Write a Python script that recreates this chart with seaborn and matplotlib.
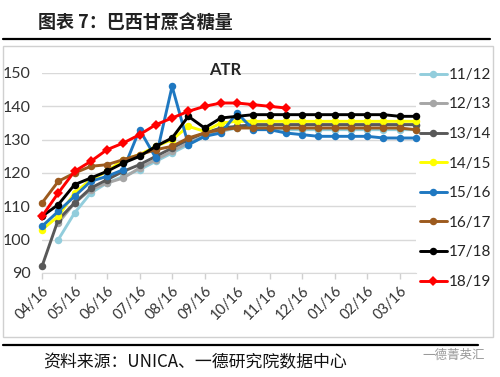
import numpy as np
import pandas as pd
import matplotlib.pyplot as plt
import seaborn as sns
from matplotlib.lines import Line2D
from matplotlib.patches import Rectangle

sns.set_style('white')
plt.rcParams['font.family'] = ['Lato', 'Noto Sans CJK SC', 'DejaVu Sans']

nan = np.nan

# half-month dates, 04/16 to 04/01 of next year
dates = ['04/16', '05/01', '05/16', '06/01', '06/16', '07/01', '07/16', '08/01',
         '08/16', '09/01', '09/16', '10/01', '10/16', '11/01', '11/16', '12/01',
         '12/16', '01/01', '01/16', '02/01', '02/16', '03/01', '03/16', '04/01']

seasons = ['11/12', '12/13', '13/14', '14/15', '15/16', '16/17', '17/18', '18/19']

atr_1112 = [nan, 100, 108, 114, 117, 119, 121, 123.5, 126, 128.5, 131, 132.5,
            133.5, 134, 133.5, 133, 133, 133, 133, 133, 133, 133, 133, 133]
atr_1213 = [nan, 105, 111, 115, 117, 118.5, 121.5, 124, 126.5, 129, 131, 132.5,
            134, 134.5, 134.5, 134.5, 134.5, 134.5, 134.5, 134.5, 134.5, 134.5, 134.5, 134.5]
atr_1314 = [92, 106, 111, 115.5, 118, 120.5, 122.5, 125, 127.5, 130, 132, 133.5,
            134, 134.5, 134.5, 134.5, 134.5, 134.5, 134.5, 134.5, 134.5, 134.5, 134.5, 134.5]
atr_1415 = [103, 107, 114, 118, 120.5, 124, 125.5, 128, 130, 134, 132.5, 135,
            135.5, 135.5, 135.5, 135.5, 135.5, 135.5, 135.5, 135.5, 135.5, 135.5, 135.5, 135.5]
atr_1516 = [104, 108.5, 113, 117.5, 119, 121, 133, 124.5, 146, 128.5, 131, 132,
            138, 133, 133, 132, 131.5, 131, 131, 131, 131, 130.5, 130.5, 130.5]
atr_1617 = [111, 117.5, 120, 122, 122.5, 124, 125.5, 127, 128, 130.5, 132, 133,
            133.5, 133.5, 133.5, 133.5, 133.5, 133.5, 133.5, 133.5, 133.5, 133.5, 133.5, 133]
atr_1718 = [107, 110.5, 116.5, 118.5, 120.5, 123, 125, 128, 130.5, 137, 133.5, 136.5,
            137, 137.5, 137.5, 137.5, 137.5, 137.5, 137.5, 137.5, 137.5, 137.5, 137, 137]
atr_1819 = [107, 114, 120.5, 123.5, 127, 129, 131.5, 134.5, 136.5, 138.5, 140, 141,
            141, 140.5, 140, 139.5, nan, nan, nan, nan, nan, nan, nan, nan]

colors = ['#92CDDC', '#A6A6A6', '#595959', '#FFFF00', '#1F78C1', '#9C5A1E', '#000000', '#FF0000']
markers = ['o', 'o', 'o', 'o', 'o', 'o', 'o', 'D']

df = pd.DataFrame({'idx': range(len(dates)), '11/12': atr_1112, '12/13': atr_1213,
                   '13/14': atr_1314, '14/15': atr_1415, '15/16': atr_1516,
                   '16/17': atr_1617, '17/18': atr_1718, '18/19': atr_1819})
long = df.melt(id_vars='idx', var_name='season', value_name='atr').dropna()

fig = plt.figure(figsize=(5, 3.77), dpi=100)
ax = fig.add_axes([42/500, 1 - 273/377, 374/500, 200/377])

sns.lineplot(data=long, x='idx', y='atr', hue='season', style='season',
             hue_order=seasons, style_order=seasons,
             palette=dict(zip(seasons, colors)), markers=dict(zip(seasons, markers)),
             dashes=False, linewidth=2.1, markersize=5.4, markeredgewidth=0,
             clip_on=False, ax=ax)

ax.set_xlim(0, 23)
ax.set_ylim(90, 150)
ax.set_yticks(range(90, 151, 10))
ax.set_xticks(range(0, 24, 2))
ax.set_xticklabels(dates[0::2], rotation=45, ha='right', rotation_mode='anchor')
ax.set_xlabel('')
ax.set_ylabel('')
ax.grid(axis='y', color='#D9D9D9', linewidth=1)
ax.grid(axis='x', visible=False)
for s in ['left', 'right', 'top']:
    ax.spines[s].set_visible(False)
ax.spines['bottom'].set_color('#D9D9D9')
ax.tick_params(axis='y', length=0, pad=8, labelsize=11.5, labelcolor='#333333')
ax.tick_params(axis='x', length=4, color='#D0D0D0', width=1, pad=4,
               labelsize=10.5, labelcolor='#333333', bottom=True)

handles, labels = ax.get_legend_handles_labels()
ax.legend(handles, labels, loc='upper left', bbox_to_anchor=(0.84, 0.82),
          bbox_transform=fig.transFigure, frameon=False, fontsize=11,
          handlelength=1.75, handletextpad=0.15, labelspacing=1.02,
          borderpad=0, borderaxespad=0)

fig.text(225/500, 1 - 70/377, 'ATR', fontsize=12, fontweight='bold', ha='center', va='center')

# frame and header / footer
fig.add_artist(Rectangle((3/500, 1 - 337/377), 490/500, 291/377, transform=fig.transFigure,
                         fill=False, edgecolor='#D0D0D0', linewidth=1))
fig.add_artist(Line2D([3/500, 490/500], [1 - 39/377] * 2, color='black', linewidth=1.6))
fig.add_artist(Line2D([3/500, 478/500], [1 - 345/377] * 2, color='black', linewidth=1.6))

fig.text(38/500, 1 - 23/377, '图表 7：巴西甘蔗含糖量', fontsize=13, fontweight='bold',
         va='center', family=['Noto Sans CJK SC', 'DejaVu Sans'], color='#222222')
fig.text(43/500, 1 - 362/377, '资料来源：UNICA、一德研究院数据中心', fontsize=12.2,
         va='center', family=['Noto Sans CJK SC', 'DejaVu Sans'], color='#111111')
fig.text(422/500, 1 - 355/377, '一德菁英汇', fontsize=9, va='center', color='#9A9A9A',
         family=['Noto Sans CJK SC', 'DejaVu Sans'])

fig.savefig('out.png', dpi=100)
